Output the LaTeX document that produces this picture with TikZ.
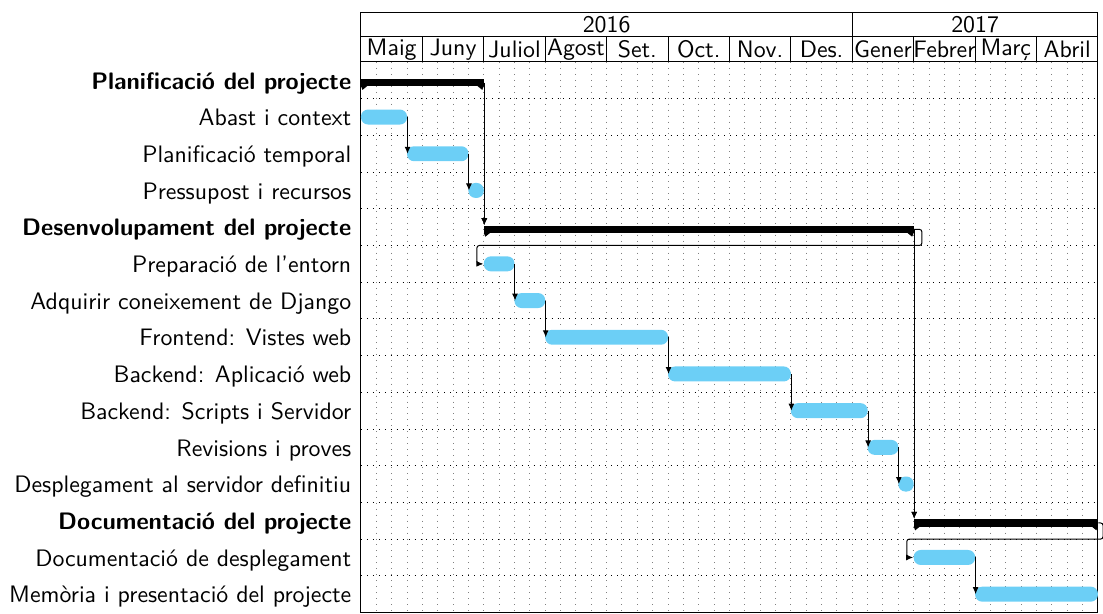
\documentclass[tikz,border=0pt]{standalone}
\usepackage{fontspec}
\usetikzlibrary{fit,arrows.meta}
\renewcommand{\familydefault}{\sfdefault}

\newcommand*{\xMin}{0}
\newcommand*{\xMax}{48}
\newcommand*{\yMin}{0}
\newcommand*{\yMax}{15}
\newcommand*{\chartfont}{\fontsize{9.6}{11.5}\selectfont}

\definecolor{barblue}{RGB}{108,207,246}

\begin{document}
\begin{tikzpicture}[x=.2174cm, y=-.5197cm, font=\chartfont,
	task/.style={fill=barblue, rounded corners=.099cm, inner sep=0pt},
	grouptask/.style={fill=black, inner sep=0pt},
	link/.style={-{Latex[length=2.8pt,width=2.4pt]}},
	rowlabel/.style={anchor=base east, inner sep=0pt, yshift=-.35em},
	title/.style={inner sep=0pt}]
	\useasboundingbox (-23.51,-1.689) rectangle (48.33,15.014);

	% grid
	\foreach \i in {1,...,47} {
		\draw [dotted,gray] (\i,\yMin) -- (\i,\yMax);
	}
	\foreach \j in {1,...,14} {
		\draw [dotted] (\xMin,\j) -- (\xMax,\j);
	}

	% header
	\draw (\xMin,-1.335) rectangle (\xMax,\yMax);
	\draw (\xMin,-.681) -- (\xMax,-.681);
	\draw (\xMin,0) -- (\xMax,0);
	\draw (32,-1.335) -- (32,0);
	\node[title] (y2016) at (16,-1.008) {2016};
	\node[title] (y2017) at (40,-1.008) {2017};
	\foreach \m [count=\i from 0] in {Maig,Juny,Juliol,Agost,Set.,Oct.,Nov.,Des.,Gener,Febrer,Març,Abril} {
		\draw (4*\i,-.681) -- (4*\i,0);
		\node[title] (m\i) at (4*\i+2,-.34) {\m};
	}

	% groups
	\foreach \r/\a/\b/\n/\txt in {0/0/8/g0/Planificació del projecte,
		4/8/36/g4/Desenvolupament del projecte,
		12/36/48/g12/Documentació del projecte} {
		\node[grouptask, fit={(\a,\r+.46) (\b,\r+.66)}] (\n) {};
		\fill (\a,\r+.66) -- (\a+.4,\r+.66) -- (\a+.1,\r+.76) -- cycle;
		\fill (\b,\r+.66) -- (\b-.4,\r+.66) -- (\b-.1,\r+.76) -- cycle;
		\node[rowlabel, font=\chartfont\bfseries] (l\n) at (-.6,\r+.5) {\txt};
	}

	% tasks
	\foreach \r/\a/\b/\n/\txt in {1/0/3/t1/Abast i context,
		2/3/7/t2/Planificació temporal,
		3/7/8/t3/Pressupost i recursos,
		5/8/10/t5/Preparació de l'entorn,
		6/10/12/t6/Adquirir coneixement de Django,
		7/12/20/t7/Frontend: Vistes web,
		8/20/28/t8/Backend: Aplicació web,
		9/28/33/t9/Backend: Scripts i Servidor,
		10/33/35/t10/Revisions i proves,
		11/35/36/t11/Desplegament al servidor definitiu,
		13/36/40/t13/Documentació de desplegament,
		14/40/48/t14/Memòria i presentació del projecte} {
		\node[task, fit={(\a,\r+.296) (\b,\r+.704)}] (\n) {};
		\node[rowlabel] (l\n) at (-.6,\r+.5) {\txt};
	}

	% links
	\draw[link] (g0.east) -- (g0.east |- g4.north);
	\draw[link] (t1.east) -- (t1.east |- t2.west);
	\draw[link] (t2.east) -- (t2.east |- t3.west);
	\draw[link] (t3.east) -- (t3.east |- g4.north);
	\draw[link, rounded corners=1pt] (g4.east) -- ++(.5,0) |- (7.55,5) |- (t5.west);
	\draw[link] (t5.east) -- (t5.east |- t6.west);
	\draw[link] (t6.east) -- (t6.east |- t7.west);
	\draw[link] (t7.east) -- (t7.east |- t8.west);
	\draw[link] (t8.east) -- (t8.east |- t9.west);
	\draw[link] (t9.east) -- (t9.east |- t10.west);
	\draw[link] (t10.east) -- (t10.east |- t11.west);
	\draw[link] (t11.east) -- (t11.east |- g12.north);
	\draw[link] (g4.east) -- (g4.east |- g12.north);
	\draw[link, rounded corners=1pt] (g12.east) -- ++(.3,0) |- (35.55,13) |- (t13.west);
	\draw[link] (t13.east) -- (t13.east |- t14.west);
\end{tikzpicture}
\end{document}
